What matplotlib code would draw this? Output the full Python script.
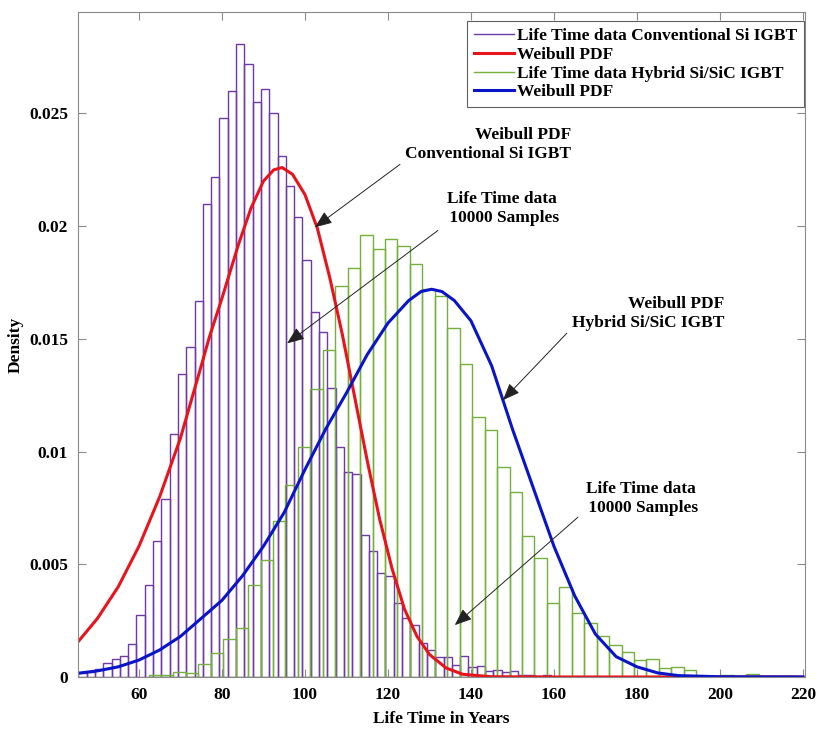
import numpy as np
import matplotlib
matplotlib.use('Agg')
import matplotlib.pyplot as plt
from matplotlib.lines import Line2D

plt.rcParams['font.family'] = ['Liberation Serif', 'DejaVu Serif']
plt.rcParams['font.weight'] = 'bold'

# histogram of conventional Si IGBT life time (density, bin width 2 years)
si_start = 45.4
si_width = 2.0
si_density = [0.00016, 0.0002, 0.00034, 0.0006, 0.00078, 0.00094, 0.00145, 0.00277, 0.00407, 0.00602,
              0.0079, 0.0108, 0.01346, 0.01465, 0.0167, 0.0210, 0.0222, 0.0248, 0.0260, 0.0281,
              0.0272, 0.0255, 0.0261, 0.0250, 0.0231, 0.0218, 0.0204, 0.0185, 0.0162, 0.0153,
              0.0128, 0.0102, 0.0091, 0.0090, 0.0063, 0.0056, 0.0046, 0.0045, 0.0033, 0.0026,
              0.0023, 0.0015, 0.0012, 0.0009, 0.0009, 0.00055, 0.00095, 0.00043, 0.0005, 0.00025,
              0.0003, 0.0002, 0.00025, 0.0001, 0.0001, 0.00005, 0.0001]

# histogram of hybrid Si/SiC IGBT life time (density, bin width 3 years)
sic_start = 62.3
sic_width = 3.0
sic_density = [0.00009, 0.0001, 0.0002, 0.00016, 0.00056, 0.00105, 0.0017, 0.00218, 0.00408, 0.00518,
               0.0069, 0.00853, 0.0102, 0.01277, 0.0145, 0.01735, 0.01816, 0.01959, 0.01897, 0.01944,
               0.0191, 0.01833, 0.0172, 0.0169, 0.01546, 0.01388, 0.01155, 0.01096, 0.0093, 0.0082,
               0.00624, 0.00528, 0.00329, 0.00397, 0.00285, 0.0024, 0.00183, 0.00142, 0.00112, 0.00075,
               0.0008, 0.00038, 0.00046, 0.0003, 0.00005, 0.00002, 0.0001, 0.00002, 0.00012, 0.00003,
               0.00003, 0.00003, 0.00002]

# Weibull pdf curves
si_pdf_x = [45.5, 50, 55, 60, 65, 70, 75, 77, 80, 84, 87, 90, 92.5, 94.5, 97, 100, 103, 106,
            109, 112, 115, 118, 121, 124, 127, 130, 134, 138, 145, 160, 220]
si_pdf_y = [0.0016, 0.0026, 0.0040, 0.0058, 0.0080, 0.0106, 0.0138, 0.0151, 0.0168, 0.0192,
            0.0208, 0.0220, 0.0225, 0.0226, 0.0223, 0.0214, 0.0199, 0.0177, 0.0152, 0.0124,
            0.0096, 0.0070, 0.0048, 0.0030, 0.0018, 0.0010, 0.0004, 0.00012, 0.00001, 0, 0]

sic_pdf_x = [45.5, 50, 55, 60, 65, 70, 75, 80, 85, 90, 95, 100, 105, 110, 115, 120, 125, 128,
             130.5, 133, 136, 140, 145, 150, 155, 160, 165, 170, 175, 180, 185, 190, 200, 220]
sic_pdf_y = [0.00017, 0.00027, 0.00045, 0.00075, 0.0012, 0.0018, 0.0026, 0.0034, 0.0045, 0.0058,
             0.0073, 0.0092, 0.0110, 0.0126, 0.0143, 0.0157, 0.0167, 0.0171, 0.0172, 0.0171,
             0.0167, 0.0158, 0.0138, 0.0110, 0.0084, 0.0058, 0.0036, 0.0019, 0.0009, 0.00045,
             0.00018, 0.00006, 0.00001, 0]

x_ticks = [60, 80, 100, 120, 140, 160, 180, 200, 220]
y_ticks = [0, 0.005, 0.01, 0.015, 0.02, 0.025]
y_tick_labels = ['0', '0.005', '0.01', '0.015', '0.02', '0.025']

c_si = '#7038A8'
c_sic = '#74B03C'
c_red = '#E8141C'
c_blue = '#0A14C8'

fig = plt.figure(figsize=(8.19, 7.36), dpi=100)
ax = fig.add_axes([0.0952, 0.0802, 0.8877, 0.9035])

si_left = si_start + si_width * np.arange(len(si_density))
sic_left = sic_start + sic_width * np.arange(len(sic_density))

ax.bar(si_left, si_density, width=si_width, align='edge', fill=False,
       edgecolor=c_si, linewidth=1.0)
ax.plot(si_pdf_x, si_pdf_y, color=c_red, linewidth=2.2)
ax.bar(sic_left, sic_density, width=sic_width, align='edge', fill=False,
       edgecolor=c_sic, linewidth=1.0)
ax.plot(sic_pdf_x, sic_pdf_y, color=c_blue, linewidth=2.2)

ax.set_xlim(45.3, 220.5)
ax.set_ylim(0, 0.0295)
ax.set_xticks(x_ticks)
ax.set_yticks(y_ticks)
ax.set_yticklabels(y_tick_labels)

for s in ax.spines.values():
    s.set_color('#8a8a8a')
    s.set_linewidth(0.8)
ax.tick_params(direction='in', top=True, right=True, length=6, width=0.8,
               color='#8a8a8a', labelsize=12.5, labelcolor='black')
ax.tick_params(axis='x', pad=7)
ax.tick_params(axis='y', pad=7)

ax.set_xlabel('Life Time in Years', fontsize=12.5, fontweight='bold', labelpad=6)
ax.set_ylabel('Density', fontsize=12.5, fontweight='bold')
ax.yaxis.set_label_coords(-0.074, 0.5)

handles = [Line2D([], [], color=c_si, lw=1.0),
           Line2D([], [], color=c_red, lw=2.2),
           Line2D([], [], color=c_sic, lw=1.0),
           Line2D([], [], color=c_blue, lw=2.2)]
labels = ['Life Time data Conventional Si IGBT', 'Weibull PDF',
          'Life Time data Hybrid Si/SiC IGBT', 'Weibull PDF']
leg = ax.legend(handles, labels, loc='upper right', bbox_to_anchor=(0.999, 0.9865),
                borderaxespad=0, fontsize=12.5, handlelength=2.3, handletextpad=0.2,
                borderpad=0.4, labelspacing=0.15, fancybox=False, framealpha=1)
leg.get_frame().set_edgecolor('#606060')
leg.get_frame().set_linewidth(0.8)

arrow = dict(arrowstyle='-|>,head_length=0.75,head_width=0.3', color='#222222',
             lw=0.7, shrinkA=0, shrinkB=0, mutation_scale=14)
txt = dict(fontsize=12.5, fontweight='bold', va='center', linespacing=1.25)

ax.annotate('', xy=(102.4, 0.01995), xytext=(122.9, 0.02274), arrowprops=arrow)
ax.text(124.1, 0.02363, 'Weibull PDF\nConventional Si IGBT', ha='left',
        multialignment='right', **txt)

ax.annotate('', xy=(95.7, 0.0148), xytext=(132.05, 0.01981), arrowprops=arrow)
ax.text(147.5, 0.02077, 'Life Time data\n 10000 Samples', ha='center',
        multialignment='center', **txt)

ax.annotate('', xy=(147.7, 0.01228), xytext=(163.1, 0.01525), arrowprops=arrow)
ax.text(164.3, 0.01613, 'Weibull PDF\nHybrid Si/SiC IGBT', ha='left',
        multialignment='right', **txt)

ax.annotate('', xy=(136.1, 0.0023), xytext=(165.8, 0.00709), arrowprops=arrow)
ax.text(181.0, 0.00791, 'Life Time data\n 10000 Samples', ha='center',
        multialignment='center', **txt)

fig.savefig('out.png', dpi=100)
